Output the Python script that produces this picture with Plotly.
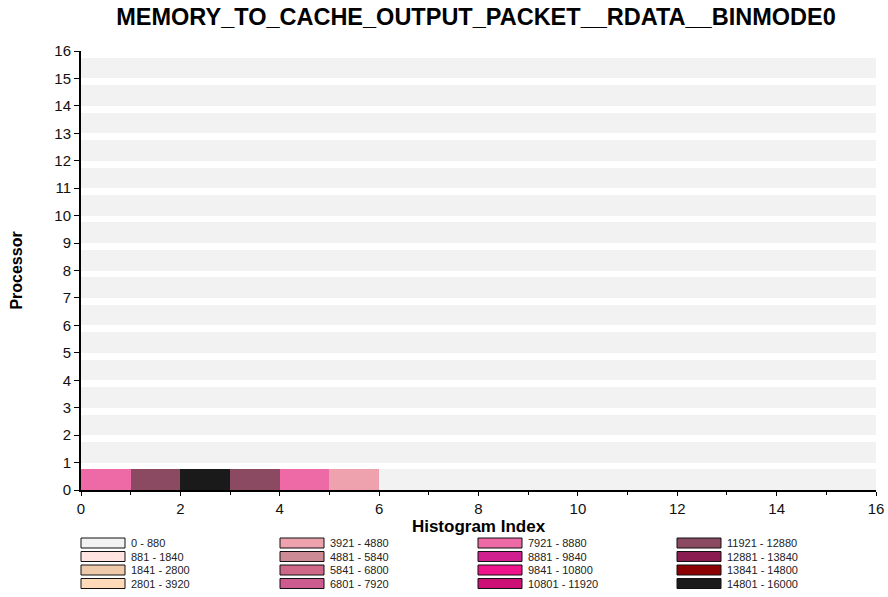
import plotly.graph_objects as go

# ---- data ----
bin_labels = ["0 - 880", "881 - 1840", "1841 - 2800", "2801 - 3920",
              "3921 - 4880", "4881 - 5840", "5841 - 6800", "6801 - 7920",
              "7921 - 8880", "8881 - 9840", "9841 - 10800", "10801 - 11920",
              "11921 - 12880", "12881 - 13840", "13841 - 14800", "14801 - 16000"]
bin_upper = [880, 1840, 2800, 3920, 4880, 5840, 6800, 7920,
             8880, 9840, 10800, 11920, 12880, 13840, 14800, 16000]
bin_colors = ["#f2f2f2", "#ffe4e1", "#eec9aa", "#ffdab9",
              "#eea2ad", "#cd8c95", "#cd6889", "#cd5b8f",
              "#ee6aa7", "#d02090", "#f0148c", "#cd1076",
              "#8b4a62", "#8b1c52", "#8b0000", "#1a1a1a"]
processors = list(range(16))
hist_index = list(range(16))
# values per processor (row) per histogram index (column)
proc0_values = [8400, 12400, 15400, 12400, 8400, 4400, 0, 0, 0, 0, 0, 0, 0, 0, 0, 0]
other_values = [0] * 16
values = [proc0_values] + [other_values for _ in processors[1:]]

title = "MEMORY_TO_CACHE_OUTPUT_PACKET__RDATA__BINMODE0"


def color_for(v):
    for up, c in zip(bin_upper, bin_colors):
        if v <= up:
            return c
    return bin_colors[-1]


fig = go.Figure()
ys, xs, bases, cols = [], [], [], []
for p, row in zip(processors, values):
    for i, v in zip(hist_index, row):
        ys.append(p + 0.375)
        xs.append(1)
        bases.append(i)
        cols.append(color_for(v))

fig.add_trace(go.Bar(orientation="h", y=ys, x=xs, base=bases, width=0.75,
                     marker=dict(color=cols, line=dict(width=0)),
                     showlegend=False, hoverinfo="skip"))

# ---- geometry (body margin removed via post_script) ----
FW, FH = 888, 597
L, R, T, B = 81, 876, 51, 490
W, H = R - L, B - T


def px_x(px):
    return (px - L) / W


def px_y(py):
    return (B - py) / H


# ---- custom legend (4 columns x 4 rows, column-major) ----
col_x = [81, 280, 478, 677]
row_y = [543, 556.5, 570, 583.5]
shapes = []
annotations = []
for k, (lab, c) in enumerate(zip(bin_labels, bin_colors)):
    ci, ri = divmod(k, 4)
    x0 = col_x[ci]
    yc = row_y[ri]
    shapes.append(dict(type="rect", xref="paper", yref="paper",
                       x0=px_x(x0), x1=px_x(x0 + 44), y0=px_y(yc + 5), y1=px_y(yc - 5),
                       fillcolor=c, line=dict(color="#111", width=1)))
    annotations.append(dict(xref="paper", yref="paper", x=px_x(x0 + 48), y=px_y(yc),
                            text=lab, showarrow=False, xanchor="left", yanchor="middle",
                            font=dict(size=11, color="#222")))

fig.update_layout(
    width=FW, height=FH,
    margin=dict(l=L, r=FW - R, t=T, b=FH - B, autoexpand=False),
    paper_bgcolor="white", plot_bgcolor="white",
    font=dict(family="Liberation Sans, Arial, sans-serif", color="#111"),
    title=dict(text="<b>" + title + "</b>", x=476 / FW, xanchor="center",
               y=1 - 17 / FH, yanchor="middle", font=dict(size=23.5, color="#000")),
    barmode="overlay", bargap=0,
    shapes=shapes, annotations=annotations,
    xaxis=dict(range=[0, 16], tickvals=[0, 2, 4, 6, 8, 10, 12, 14, 16],
               ticks="outside", ticklen=4, tickcolor="#000", showline=True,
               linecolor="#000", linewidth=2, showgrid=False, zeroline=False,
               tickfont=dict(size=15, color="#111"),
               minor=dict(tickvals=[1, 3, 5, 7, 9, 11, 13, 15], ticks="outside",
                          ticklen=3, tickcolor="#000", showgrid=False),
               title=dict(text="<b>Histogram Index</b>", font=dict(size=17, color="#000"),
                          standoff=0)),
    yaxis=dict(range=[0, 16], tickvals=list(range(17)), ticks="outside", ticklen=5,
               tickcolor="#000", showline=True, linecolor="#000", linewidth=2,
               showgrid=False, zeroline=False, tickfont=dict(size=15, color="#111"),
               title=dict(text="<b>Processor</b>", font=dict(size=16, color="#000"),
                          standoff=28)),
)

fig.write_html("out.html", config={"displayModeBar": False},
               post_script="document.body.style.margin='0';document.body.style.overflow='hidden';")
